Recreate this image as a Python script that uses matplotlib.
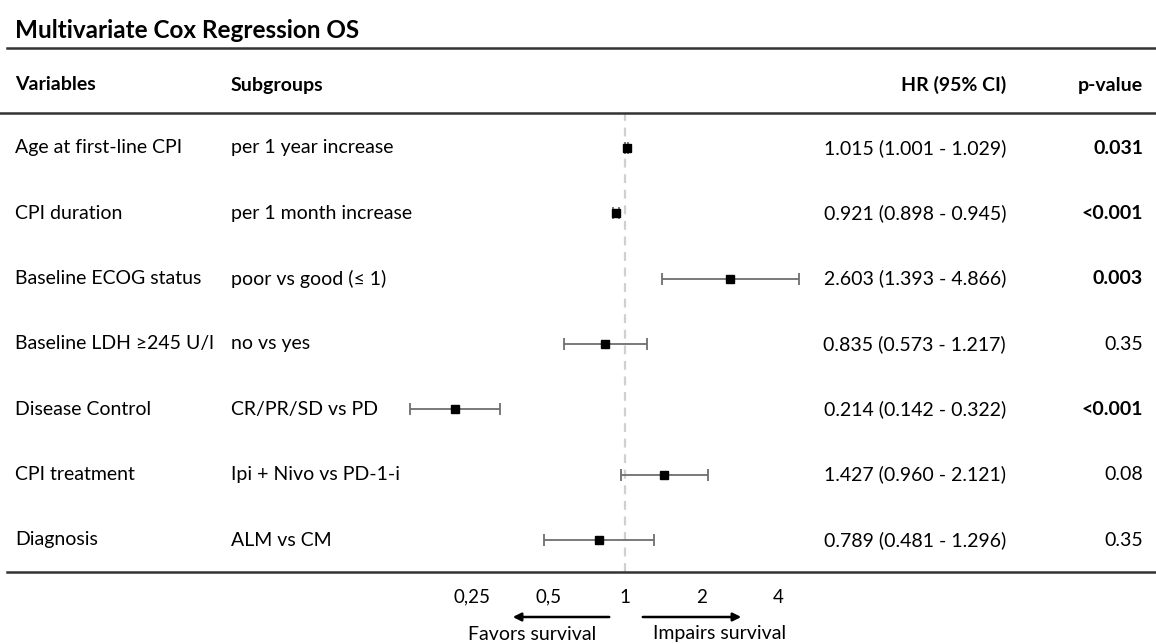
import numpy as np
import matplotlib
matplotlib.use("Agg")
import matplotlib.pyplot as plt
from matplotlib.lines import Line2D

plt.rcParams['font.family'] = ['Lato', 'DejaVu Sans']

# data
variables = ["Age at first-line CPI", "CPI duration", "Baseline ECOG status",
             "Baseline LDH \u2265245 U/l", "Disease Control", "CPI treatment", "Diagnosis"]
subgroups = ["per 1 year increase", "per 1 month increase", "poor vs good (\u2264 1)",
             "no vs yes", "CR/PR/SD vs PD", "Ipi + Nivo vs PD-1-i", "ALM vs CM"]
hr = [1.015, 0.921, 2.603, 0.835, 0.214, 1.427, 0.789]
ci_low = [1.001, 0.898, 1.393, 0.573, 0.142, 0.960, 0.481]
ci_high = [1.029, 0.945, 4.866, 1.217, 0.322, 2.121, 1.296]
p_values = ["0.031", "<0.001", "0.003", "0.35", "<0.001", "0.08", "0.35"]
p_bold = [True, True, True, False, True, False, False]
tick_vals = [0.25, 0.5, 1, 2, 4]
tick_labels = ["0,25", "0,5", "1", "2", "4"]

W, H = 1156, 644
fig = plt.figure(figsize=(W / 100, H / 100), dpi=100)

def fx(px):
    return px / W

def fy(py):
    return 1 - py / H

FS = 14     # body text
FN = 14     # numbers

# forest plot axes (pixel layout)
left, right, top, bottom = 380, 820, 113, 572
ax = fig.add_axes([fx(left), fy(bottom), fx(right - left), (bottom - top) / H])
ax.set_xscale('log', base=2)
ppd = 76.4  # pixels per doubling
ax.set_xlim(2 ** ((left - 625) / ppd), 2 ** ((right - 625) / ppd))
ax.set_ylim(6.49, -0.536)

rows = np.arange(len(hr))
err = [np.array(hr) - np.array(ci_low), np.array(ci_high) - np.array(hr)]
ax.errorbar(hr, rows, xerr=err, fmt='none', ecolor='#6e6e6e', elinewidth=1.3,
            capsize=4, capthick=1.3, zorder=2)
ax.plot(hr, rows, 's', color='black', markersize=6.2, zorder=3)
ax.axvline(1, color='#d0d0d0', linestyle=(0, (4, 3)), linewidth=1.6, zorder=1)

for s in ax.spines.values():
    s.set_visible(False)
ax.set_yticks([])
ax.set_xticks(tick_vals)
ax.set_xticklabels(tick_labels, fontsize=13.5)
ax.xaxis.set_minor_locator(matplotlib.ticker.NullLocator())
ax.tick_params(axis='x', length=0, pad=12)

# horizontal rules
for y, x0, lw in [(47.5, 7, 1.8), (112.5, 0, 1.8), (572, 7, 1.8)]:
    fig.add_artist(Line2D([fx(x0), 1], [fy(y), fy(y)], color='#333333', linewidth=lw))

# title and headers
fig.text(fx(15), fy(30), "Multivariate Cox Regression OS", fontsize=17.5,
         fontweight='bold', va='center', ha='left')
hdr_y = fy(85)
fig.text(fx(15), hdr_y, "Variables", fontsize=FS, fontweight='bold', va='center')
fig.text(fx(231), hdr_y, "Subgroups", fontsize=FS, fontweight='bold', va='center')
fig.text(fx(1006), hdr_y, "HR (95% CI)", fontsize=FS, fontweight='bold', va='center', ha='right')
fig.text(fx(1143), hdr_y, "p-value", fontsize=FS, fontweight='bold', va='center', ha='right')

row_px = [148, 213.3, 278.7, 344, 409.3, 474.7, 540]
for i in range(len(hr)):
    yy = fy(row_px[i])
    fig.text(fx(15), yy, variables[i], fontsize=FS, va='center')
    fig.text(fx(231), yy, subgroups[i], fontsize=FS, va='center')
    fig.text(fx(1006), yy, "%.3f (%.3f - %.3f)" % (hr[i], ci_low[i], ci_high[i]),
             fontsize=FN, va='center', ha='right')
    fig.text(fx(1143), yy, p_values[i], fontsize=FN, va='center', ha='right',
             fontweight='bold' if p_bold[i] else 'normal')

# direction arrows
ay = fy(617)
fig.add_artist(matplotlib.patches.FancyArrowPatch((fx(612), ay), (fx(510), ay),
               transform=fig.transFigure, arrowstyle='-|>', mutation_scale=12,
               color='black', linewidth=1.8))
fig.add_artist(matplotlib.patches.FancyArrowPatch((fx(640), ay), (fx(744), ay),
               transform=fig.transFigure, arrowstyle='-|>', mutation_scale=12,
               color='black', linewidth=1.8))
fig.text(fx(532), fy(634), "Favors survival", fontsize=FN, ha='center', va='center')
fig.text(fx(720), fy(634), "Impairs survival", fontsize=FN, ha='center', va='center')

fig.savefig("out.png", dpi=100)
